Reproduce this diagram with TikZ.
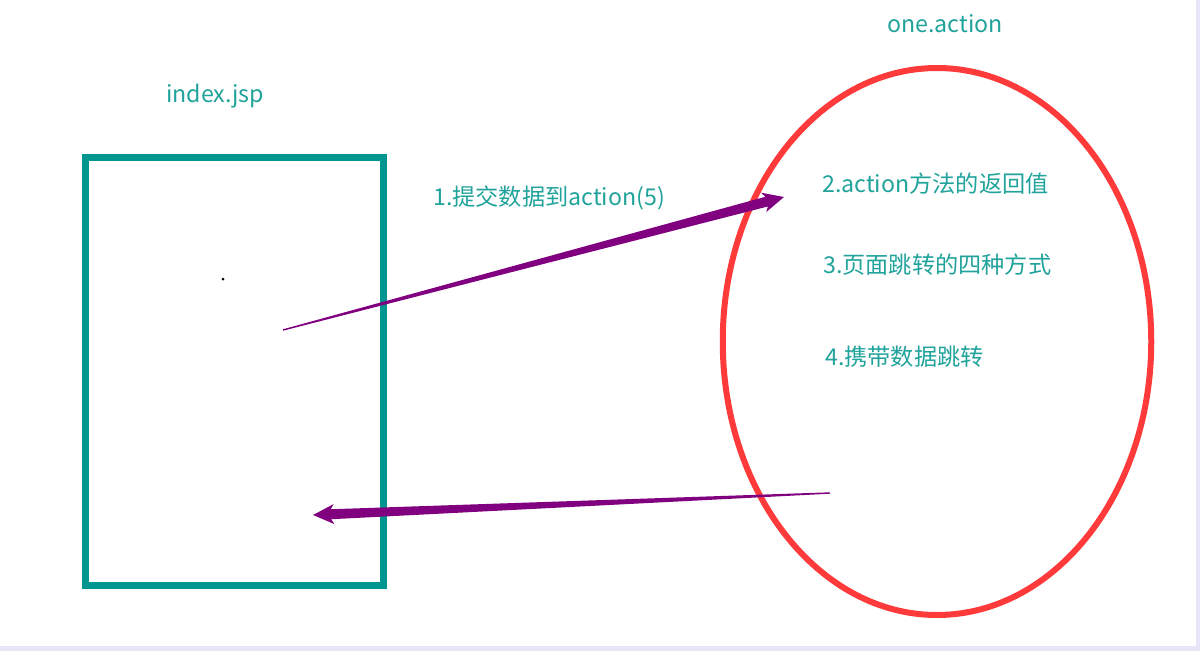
\documentclass[tikz,border=0pt]{standalone}
\usepackage{fontspec}
\setmainfont{Noto Sans CJK SC}
\usetikzlibrary{calc,positioning,shapes.geometric}
\definecolor{tealline}{RGB}{0,150,143}
\definecolor{tealtext}{RGB}{32,163,155}
\definecolor{redline}{RGB}{255,58,58}
\definecolor{flowcol}{RGB}{128,0,128}
\definecolor{frame}{RGB}{230,230,248}
\tikzset{%
  page/.style={rectangle,draw=tealline,line width=7pt,minimum width=297.5pt,minimum height=428.5pt,inner sep=0pt},
  action/.style={ellipse,draw=redline,line width=6pt,minimum width=428.5pt,minimum height=547pt,inner sep=0pt},
  caption/.style={text=tealtext,font=\fontsize{23.2}{28}\selectfont,inner sep=0pt},
  flow/.style={fill=flowcol}%
}
\newcommand{\taperarrow}[2]{%
  \coordinate (hj) at ($(#2)!18pt!(#1)$);
  \coordinate (hb) at ($(#2)!21pt!(#1)$);
  \fill[flow] ($(#1)!0.7pt!90:(#2)$) -- ($(hj)!5pt!90:(#2)$) -- ($(hb)!10pt!90:(#2)$) -- (#2)
    -- ($(hb)!10pt!-90:(#2)$) -- ($(hj)!5pt!-90:(#2)$) -- ($(#1)!0.7pt!-90:(#2)$) -- cycle;%
}

\begin{document}
\begin{tikzpicture}[x=1pt,y=-1pt]
      \fill[frame] (0,0) rectangle (1200,651);
      \fill[white] (0,0) rectangle (1196,646);
      \useasboundingbox (0,0) rectangle (1200,651);

      \node (jsp) [page] at (234.25,371.25) {};
      \node (act) [action] at (937,341.5) {};
      \node (jsp_name) [caption] at (215,96) {index.jsp};
      \node (act_name) [caption] at (945,24) {one.action};

      \node (step_1) [caption,anchor=west] at (433,198) {1.提交数据到action(5)};
      \node (step_2) [caption,anchor=west] at (822,184) {2.action方法的返回值};
      \node (step_3) [caption,anchor=west] at (823,265) {3.页面跳转的四种方式};
      \node (step_4) [caption,anchor=west] at (825,357) {4.携带数据跳转};

      \fill (223,279) circle (1.5pt);

      \coordinate (send) at (283,330);
      \coordinate (recv) at (784,197);
      \coordinate (reply) at (830,493);
      \coordinate (back) at (313,515);
      \taperarrow{send}{recv}
      \taperarrow{reply}{back}

    \end{tikzpicture}
\end{document}
